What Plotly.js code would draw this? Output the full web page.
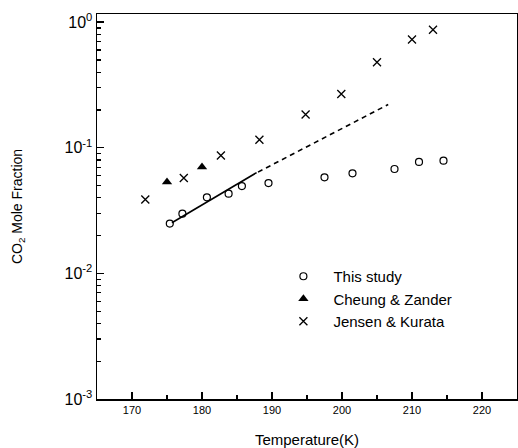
<!DOCTYPE html>
<html>
<head>
<meta charset="utf-8">
<script src="https://cdn.plot.ly/plotly-3.0.1.min.js"></script>
<style>html,body{margin:0;padding:0;background:#fff;}#chart{width:518px;height:448px;}</style>
</head>
<body>
<div id="chart"></div>
<script>
// This study
const studyT = [175.4, 177.2, 180.7, 183.8, 185.7, 189.5, 197.5, 201.5, 207.5, 211.0, 214.5];
const studyX = [0.0249, 0.0299, 0.0403, 0.0431, 0.0496, 0.0524, 0.0582, 0.0626, 0.0678, 0.0771, 0.079];
// Cheung & Zander
const cheungT = [175.0, 180.0];
const cheungX = [0.0534, 0.0703];
// Jensen & Kurata
const jensenT = [171.9, 177.4, 182.7, 188.2, 194.8, 199.9, 205.0, 210.0, 213.0];
const jensenX = [0.0387, 0.0574, 0.0867, 0.116, 0.184, 0.268, 0.48, 0.728, 0.869];
// Fit lines
const fitT = [175.7, 187.8];
const fitX = [0.0253, 0.0634];
const extT = [188.0, 206.6];
const extX = [0.064, 0.221];
// Axis ticks
const xTicks = [170, 180, 190, 200, 210, 220];
const yTicks = [0.001, 0.01, 0.1, 1];
const yTickText = ['10<sup>-3</sup>', '10<sup>-2</sup>', '10<sup>-1</sup>', '10<sup>0</sup>'];

const xMinor = [];
for (let v = 165; v <= 225; v += 5) if (!xTicks.includes(v)) xMinor.push(v);
const yMinor = [];
for (let e = -3; e <= 0; e++) for (let m = 2; m <= 9; m++) yMinor.push(m * Math.pow(10, e));

const font = 'Liberation Sans, Arial, Helvetica, sans-serif';
const xRange = [165, 225];
const yRange = [-3, 0.065];

const traces = [
  {x: [xRange[0]], y: [1e-6], xaxis: 'x2', yaxis: 'y2', mode: 'markers', marker: {opacity: 0}, showlegend: false, hoverinfo: 'skip'},
  {x: fitT, y: fitX, mode: 'lines', line: {color: '#000', width: 1.6}, showlegend: false, hoverinfo: 'skip'},
  {x: extT, y: extX, mode: 'lines', line: {color: '#000', width: 1.6, dash: '5px,4px'}, showlegend: false, hoverinfo: 'skip'},
  {x: studyT, y: studyX, mode: 'markers', name: 'This study',
   marker: {symbol: 'circle-open', size: 7, color: '#000', line: {width: 1.2, color: '#000'}}},
  {x: cheungT, y: cheungX, mode: 'markers', name: 'Cheung &amp; Zander',
   marker: {symbol: 'triangle-up', size: 9, color: '#000'}},
  {x: jensenT, y: jensenX, mode: 'markers', name: 'Jensen &amp; Kurata',
   marker: {symbol: 'x-thin-open', size: 8, color: '#000', line: {width: 1.3, color: '#000'}}}
];

const layout = {
  width: 518, height: 448,
  margin: {l: 97, r: 1, t: 14, b: 49},
  paper_bgcolor: '#fff', plot_bgcolor: '#fff',
  font: {family: font, color: '#000'},
  showlegend: true,
  legend: {x: 0.42, y: 0.361, xanchor: 'left', yanchor: 'top', itemwidth: 50,
           bgcolor: 'rgba(0,0,0,0)', borderwidth: 0, font: {size: 15, family: font}, tracegroupgap: 0},
  xaxis: {
    range: xRange, tickmode: 'array', tickvals: xTicks, ticktext: xTicks.map(String),
    ticks: 'inside', ticklen: 7, tickwidth: 1.4, tickcolor: '#000',
    showline: true, linecolor: '#000', linewidth: 1.5, mirror: true,
    showgrid: false, zeroline: false,
    tickfont: {size: 11, family: font},
    title: {text: 'Temperature(K)', font: {size: 15, family: font}, standoff: 21}
  },
  yaxis: {
    type: 'log', range: yRange, tickmode: 'array', tickvals: yTicks, ticktext: yTickText,
    ticks: 'inside', ticklen: 7, tickwidth: 1.4, tickcolor: '#000',
    showline: true, linecolor: '#000', linewidth: 1.5, mirror: true,
    showgrid: false, zeroline: false,
    tickfont: {size: 16, family: font},
    title: {text: 'CO<sub>2</sub> Mole Fraction', font: {size: 14, family: font}, standoff: 38}
  },
  xaxis2: {
    overlaying: 'x', anchor: 'y2', side: 'bottom', range: xRange,
    tickmode: 'array', tickvals: xMinor, ticks: 'inside', ticklen: 4, tickwidth: 1.2, tickcolor: '#000',
    showticklabels: false, showline: false, showgrid: false, zeroline: false
  },
  yaxis2: {
    overlaying: 'y', anchor: 'x2', side: 'left', type: 'log', range: yRange,
    tickmode: 'array', tickvals: yMinor, ticks: 'inside', ticklen: 4, tickwidth: 1.2, tickcolor: '#000',
    showticklabels: false, showline: false, showgrid: false, zeroline: false
  }
};

Plotly.newPlot('chart', traces, layout, {displayModeBar: false, staticPlot: true});
</script>
</body>
</html>
